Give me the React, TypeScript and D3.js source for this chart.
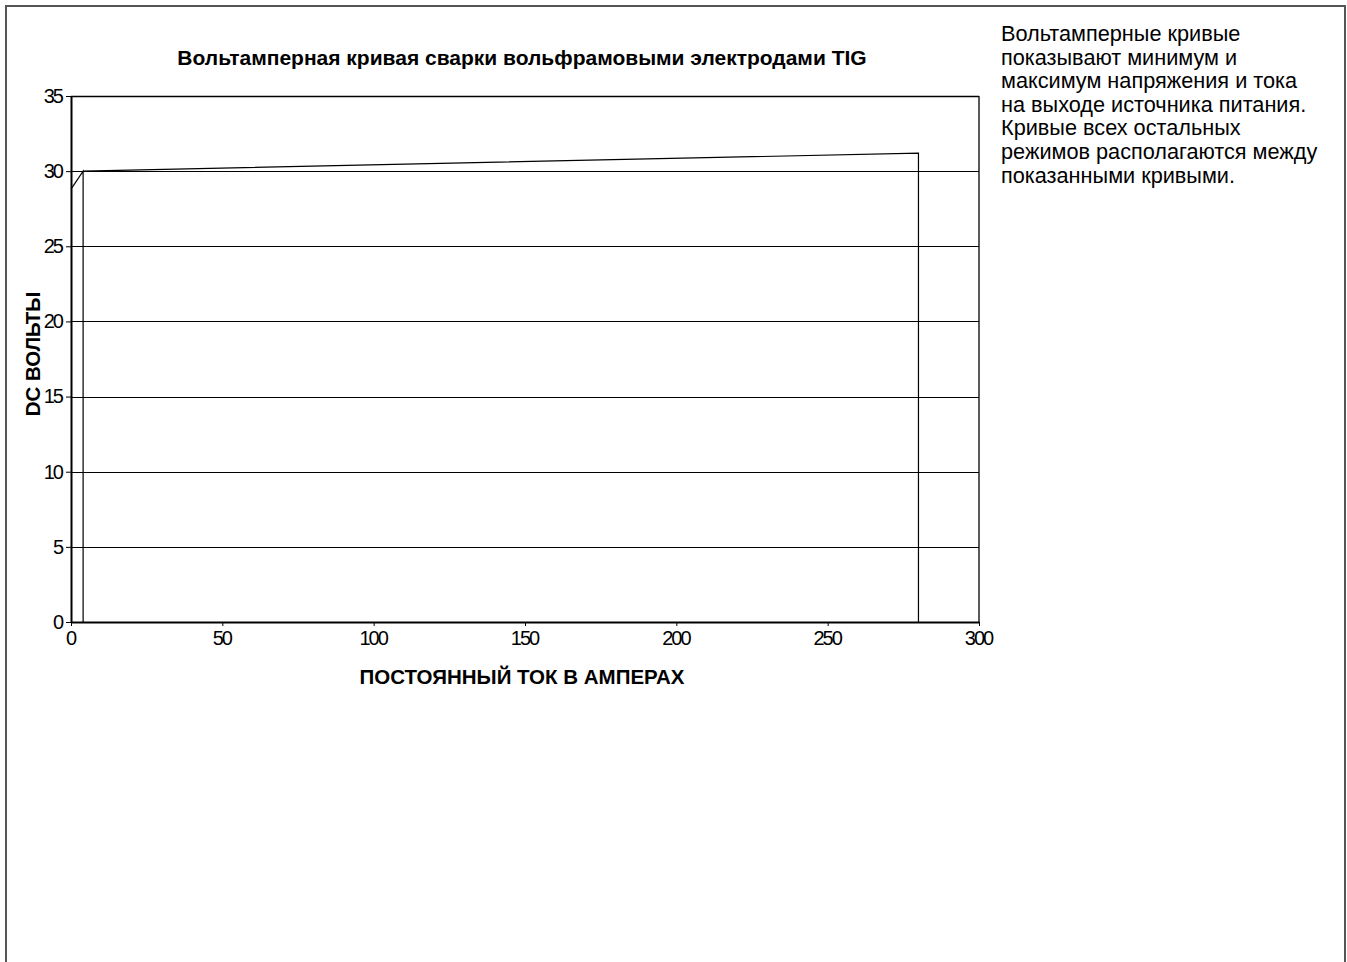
import { useEffect, useRef } from 'react'
import * as d3 from "d3"

// readings from the picture (amps, volts)
const minCurrent = [0, 4, 4]
const minVolts = [28.8, 30, 0]
const maxCurrent = [4, 280, 280]
const maxVolts = [30, 31.2, 0]

const xTicks = [0, 50, 100, 150, 200, 250, 300]
const yTicks = [0, 5, 10, 15, 20, 25, 30, 35]

const chartTitle = 'Вольтамперная кривая сварки вольфрамовыми электродами TIG'
const xTitle = 'ПОСТОЯННЫЙ ТОК В АМПЕРАХ'
const yTitle = 'DC ВОЛЬТЫ'
const noteLines = [
  'Вольтамперные кривые',
  'показывают минимум и',
  'максимум напряжения и тока',
  'на выходе источника питания.',
  'Кривые всех остальных',
  'режимов располагаются между',
  'показанными кривыми.',
]

const font = 'Liberation Sans, Arial, Helvetica, sans-serif'

function App() {
  const svgRef = useRef(null)
  const width = 1347
  const height = 962

  useEffect(() => {
    const svg = d3.select(svgRef.current)
    svg.selectAll('*').remove()

    const x = d3.scaleLinear().domain([0, 300]).range([71, 979])
    const y = d3.scaleLinear().domain([0, 35]).range([622, 96])

    // outer frame
    svg.append('rect')
      .attr('x', 6).attr('y', 6)
      .attr('width', 1339).attr('height', 1000)
      .attr('fill', 'none')
      .attr('stroke', '#555')
      .attr('stroke-width', 2)

    // grid
    svg.append('g').selectAll('line')
      .data(yTicks.filter(d => d > 0))
      .join('line')
      .attr('x1', x(0)).attr('x2', x(300))
      .attr('y1', d => Math.round(y(d)) + 0.5).attr('y2', d => Math.round(y(d)) + 0.5)
      .attr('stroke', 'black')
      .attr('stroke-width', d => d === 35 ? 1.6 : 1)

    // right border of the plot
    svg.append('line')
      .attr('x1', x(300)).attr('x2', x(300))
      .attr('y1', y(35)).attr('y2', y(0))
      .attr('stroke', 'black').attr('stroke-width', 1.3)

    // curves
    const line = d3.line<number>()
    const curves = [
      minCurrent.map((c, i) => [x(c), y(minVolts[i])]),
      maxCurrent.map((c, i) => [x(c), y(maxVolts[i])]),
    ]
    svg.append('g').selectAll('path')
      .data(curves)
      .join('path')
      .attr('d', d => line(d as any))
      .attr('fill', 'none')
      .attr('stroke', 'black')
      .attr('stroke-width', 1.2)

    // axes
    const xAxis = svg.append('g')
      .attr('transform', `translate(0,${y(0)})`)
      .call(d3.axisBottom(x).tickValues(xTicks).tickSize(4).tickSizeOuter(0).tickPadding(5))
    const yAxis = svg.append('g')
      .attr('transform', `translate(${x(0)},0)`)
      .call(d3.axisLeft(y).tickValues(yTicks).tickSize(5).tickSizeOuter(0).tickPadding(4))
    ;[xAxis, yAxis].forEach(a => {
      a.select('.domain').attr('stroke', 'black').attr('stroke-width', 2)
      a.selectAll('.tick line').attr('stroke', 'black')
      a.selectAll('.tick text')
        .attr('fill', 'black')
        .attr('font-family', font)
        .attr('font-size', 20)
        .attr('letter-spacing', -2)
    })
    xAxis.selectAll('.tick text').attr('dx', -1)

    // titles
    svg.append('text')
      .attr('x', 522).attr('y', 65)
      .attr('text-anchor', 'middle')
      .attr('font-family', font).attr('font-weight', 'bold').attr('font-size', 21)
      .text(chartTitle)
    svg.append('text')
      .attr('x', 522).attr('y', 684)
      .attr('text-anchor', 'middle')
      .attr('font-family', font).attr('font-weight', 'bold').attr('font-size', 20.5)
      .text(xTitle)
    svg.append('text')
      .attr('transform', 'translate(40,354) rotate(-90)')
      .attr('text-anchor', 'middle')
      .attr('font-family', font).attr('font-weight', 'bold').attr('font-size', 20.5)
      .text(yTitle)

    // note on the right
    svg.append('g').selectAll('text')
      .data(noteLines)
      .join('text')
      .attr('x', 1001)
      .attr('y', (d, i) => 41 + i * 23.6)
      .attr('font-family', font).attr('font-size', 21.7)
      .attr('fill', 'black')
      .text(d => d)
  }, [])

  return (
    <svg ref={svgRef} width={width} height={height}
      style={{ position: 'absolute', left: 0, top: 0, background: 'white' }} />
  )
}

export default App
